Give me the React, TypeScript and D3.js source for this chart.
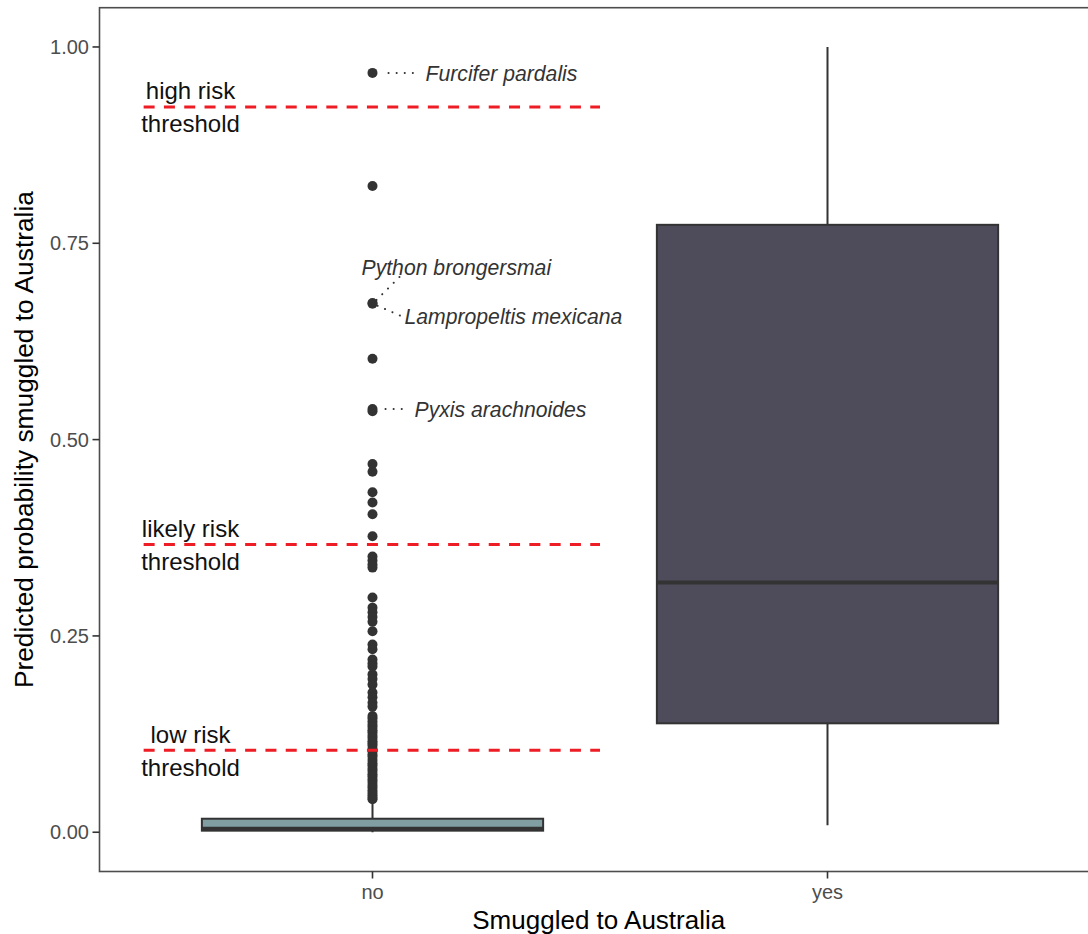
import React from "react";
import * as d3 from "d3";

// ---- data ----
const categories = ["no", "yes"];
const yTicks = [0, 0.25, 0.5, 0.75, 1.0];

// box statistics: [lowerWhisker, q1, median, q3, upperWhisker]
const boxNo = [0.0, 0.002, 0.0045, 0.0172, 0.04];
const boxYes = [0.009, 0.1387, 0.318, 0.7735, 1.0];

const noOutliers = [
  0.967, 0.823, 0.674, 0.673, 0.603, 0.539, 0.536, 0.469, 0.459, 0.433, 0.42,
  0.405, 0.377, 0.351, 0.346, 0.341, 0.337, 0.299, 0.286, 0.28, 0.274, 0.268,
  0.256, 0.239, 0.233, 0.22, 0.215, 0.211, 0.201, 0.195, 0.188, 0.178, 0.172,
  0.165, 0.16, 0.148, 0.145, 0.141, 0.137, 0.134, 0.13, 0.127, 0.123, 0.12,
  0.116, 0.113, 0.11, 0.106, 0.103, 0.099, 0.096, 0.092, 0.088, 0.085, 0.081,
  0.078, 0.074, 0.071, 0.067, 0.064, 0.06, 0.057, 0.053, 0.05, 0.047, 0.044,
  0.042,
];

const thresholdNames = ["high risk", "likely risk", "low risk"];
const thresholdValues = [0.9237, 0.3664, 0.1043];

const speciesNames = [
  "Furcifer pardalis",
  "Python brongersmai",
  "Lampropeltis mexicana",
  "Pyxis arachnoides",
];
const speciesValues = [0.967, 0.674, 0.673, 0.539];

// ---- layout ----
const W = 1088;
const H = 934;
const panel = { left: 99.5, right: 1100.5, top: 7.7, bottom: 871.5 };
const FONT = "'Liberation Sans', Arial, Helvetica, sans-serif";

// label placement (pixel offsets relative to point): text dx, dy, segment start, segment end
const labelLayout = [
  { tx: 53, ty: 0, sx1: 16, sy1: 0, sx2: 48, sy2: 0 },
  { tx: -11, ty: -36, sx1: 4, sy1: -3, sx2: 28, sy2: -27 },
  { tx: 32, ty: 13, sx1: 5, sy1: 2, sx2: 28, sy2: 12 },
  { tx: 42, ty: 0, sx1: 13, sy1: 0, sx2: 31, sy2: 0 },
];

export default function App() {
  const x = d3
    .scalePoint<string>()
    .domain(categories)
    .range([panel.left, panel.right])
    .padding(0.6);
  const step = x.step();
  const y = d3
    .scaleLinear()
    .domain([-0.05, 1.05])
    .range([panel.bottom, panel.top]);

  const boxW = step * 0.75;
  const boxes = [
    { cat: "no", s: boxNo, fill: "#819fa2" },
    { cat: "yes", s: boxYes, fill: "#4e4c5a" },
  ];
  const xNo = x("no") as number;

  return (
    <svg
      width={W}
      height={H}
      style={{ position: "absolute", left: 0, top: 0, background: "#fff" }}
      fontFamily={FONT}
    >
      <defs>
        <clipPath id="panelClip">
          <rect x={panel.left} y={panel.top} width={panel.right - panel.left} height={panel.bottom - panel.top} />
        </clipPath>
      </defs>

      {/* boxes */}
      <g clipPath="url(#panelClip)">
        {boxes.map((b) => {
          const cx = x(b.cat) as number;
          const [lw, q1, med, q3, uw] = b.s;
          return (
            <g key={b.cat}>
              <line x1={cx} x2={cx} y1={y(q3)} y2={y(uw)} stroke="#333" strokeWidth={2} />
              <line x1={cx} x2={cx} y1={y(q1)} y2={y(lw)} stroke="#333" strokeWidth={2} />
              <rect
                x={cx - boxW / 2}
                y={y(q3)}
                width={boxW}
                height={y(q1) - y(q3)}
                fill={b.fill}
                stroke="#333"
                strokeWidth={2}
              />
              <line
                x1={cx - boxW / 2}
                x2={cx + boxW / 2}
                y1={y(med)}
                y2={y(med)}
                stroke="#333"
                strokeWidth={4}
              />
            </g>
          );
        })}

        {/* outliers */}
        {noOutliers.map((v, i) => (
          <circle key={i} cx={xNo} cy={y(v)} r={5} fill="#333" />
        ))}

        {/* thresholds */}
        {thresholdValues.map((v, i) => {
          const yy = y(v);
          const lx = xNo - step * 0.4;
          return (
            <g key={thresholdNames[i]}>
              <line
                x1={xNo - step * 0.503}
                x2={xNo + step * 0.5}
                y1={yy}
                y2={yy}
                stroke="#ee1c25"
                strokeWidth={3}
                strokeDasharray="11 9.3"
              />
              <text x={lx} y={yy - 7.5} textAnchor="middle" fontSize={24} fill="#111">
                {thresholdNames[i]}
              </text>
              <text x={lx} y={yy + 25.5} textAnchor="middle" fontSize={24} fill="#111">
                threshold
              </text>
            </g>
          );
        })}

        {/* species labels */}
        {speciesNames.map((name, i) => {
          const px = xNo;
          const py = y(speciesValues[i]);
          const L = labelLayout[i];
          return (
            <g key={name}>
              <line
                x1={px + L.sx1}
                y1={py + L.sy1}
                x2={px + L.sx2}
                y2={py + L.sy2}
                stroke="#333"
                strokeWidth={2}
                strokeDasharray="0.1 8"
                strokeLinecap="round"
              />
              <text
                x={px + L.tx}
                y={py + L.ty}
                dy="0.36em"
                fontSize={21.2}
                fontStyle="italic"
                fill="#333"
              >
                {name}
              </text>
            </g>
          );
        })}
      </g>

      {/* panel border */}
      <rect
        x={panel.left}
        y={panel.top}
        width={panel.right - panel.left}
        height={panel.bottom - panel.top}
        fill="none"
        stroke="#4d4d4d"
        strokeWidth={1.6}
      />

      {/* y axis */}
      {yTicks.map((t) => (
        <g key={t}>
          <line x1={panel.left - 7} x2={panel.left} y1={y(t)} y2={y(t)} stroke="#333" strokeWidth={1.6} />
          <text x={panel.left - 10.5} y={y(t)} dy="0.36em" textAnchor="end" fontSize={20} fill="#4d4d4d">
            {d3.format(".2f")(t)}
          </text>
        </g>
      ))}

      {/* x axis */}
      {categories.map((c) => (
        <g key={c}>
          <line
            x1={x(c) as number}
            x2={x(c) as number}
            y1={panel.bottom}
            y2={panel.bottom + 7}
            stroke="#333"
            strokeWidth={1.6}
          />
          <text x={x(c) as number} y={panel.bottom + 27.5} textAnchor="middle" fontSize={20} fill="#4d4d4d">
            {c}
          </text>
        </g>
      ))}

      {/* axis titles */}
      <text x={(panel.left + 1098) / 2} y={929} textAnchor="middle" fontSize={26} fill="#000">
        Smuggled to Australia
      </text>
      <text
        transform={`translate(33, ${(panel.top + panel.bottom) / 2}) rotate(-90)`}
        textAnchor="middle"
        fontSize={26.3}
        fill="#000"
      >
        Predicted probability smuggled to Australia
      </text>
    </svg>
  );
}
